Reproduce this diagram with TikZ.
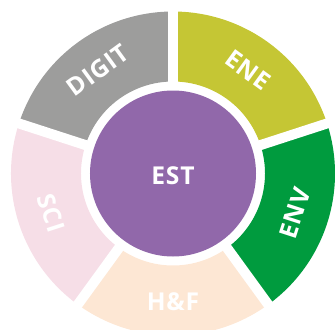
\documentclass[tikz,border=0pt]{standalone}
\usepackage{fontspec}
\setmainfont{Open Sans}[LetterSpace=3]

\definecolor{cdigit}{HTML}{9D9D9C}
\definecolor{cene}{HTML}{C5C634}
\definecolor{cenv}{HTML}{009B3E}
\definecolor{chf}{HTML}{FDE7D4}
\definecolor{csci}{HTML}{F6DEE7}
\definecolor{cest}{HTML}{9168AA}

\begin{document}
\begin{tikzpicture}[x=0.3mm,y=0.3mm,
  seglabel/.style={text=white,font=\fontsize{21}{21}\selectfont\bfseries}]

\useasboundingbox (-173,-155.5) rectangle (162,173.5);

% ring segments: start angle / colour
\foreach \a/\c in {90/cdigit,18/cene,-54/cenv,-126/chf,162/csci} {
  \fill[\c] (\a:92) arc[start angle=\a,end angle=\a+72,radius=92]
    -- (\a+72:162) arc[start angle=\a+72,end angle=\a,radius=162] -- cycle;
}

% white gaps between segments
\foreach \a in {90,18,-54,-126,162}
  \draw[white,line width=3mm] (0,0) -- (\a:170);

% centre
\fill[cest] (0,0) circle (83);
\node[seglabel] (est) at (0,-2) {EST};

% segment labels
\node[seglabel,rotate=36]  (digit) at (126:128) {DIGIT};
\node[seglabel,rotate=-36] (ene)   at (54:128)  {ENE};
\node[seglabel,rotate=72]  (env)   at (-18:128) {ENV};
\node[seglabel]            (hf)    at (-90:128) {H\&F};
\node[seglabel,rotate=-72] (sci)   at (198:128) {SCI};

\end{tikzpicture}
\end{document}
